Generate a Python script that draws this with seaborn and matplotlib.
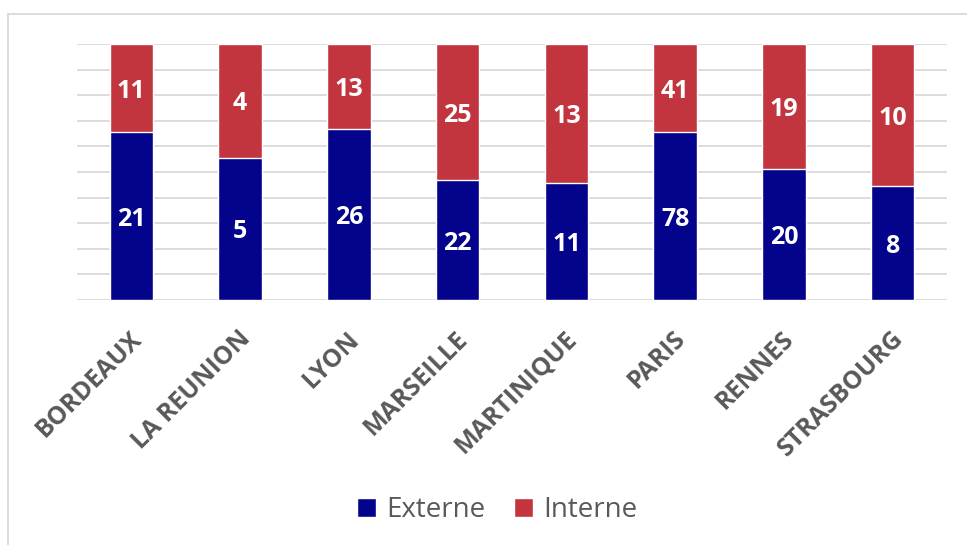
import matplotlib
matplotlib.use("Agg")
import matplotlib.pyplot as plt
import matplotlib.transforms as mtransforms
from matplotlib.patches import Rectangle, Patch
import seaborn as sns
import pandas as pd

categories = ["BORDEAUX", "LA REUNION", "LYON", "MARSEILLE", "MARTINIQUE", "PARIS", "RENNES", "STRASBOURG"]
externe = [21, 5, 26, 22, 11, 78, 20, 8]
interne = [11, 4, 13, 25, 13, 41, 19, 10]
series_names = ["Externe", "Interne"]

BLUE = "#03038B"
RED = "#C2353F"
GRID = "#D9D9D9"
TXT = "#595959"

sns.set_theme(style="white")
plt.rcParams["font.family"] = ["Open Sans", "DejaVu Sans"]

tot = [e + i for e, i in zip(externe, interne)]
df = pd.DataFrame({
    "cat": categories,
    "ext_pct": [e / t * 100 for e, t in zip(externe, tot)],
    "total": [100.0] * len(categories),
})

fig = plt.figure(figsize=(9.67, 5.45), dpi=100)
ax = fig.add_axes([77 / 967, 1 - 300 / 545, 870 / 967, 256 / 545])

sns.barplot(data=df, x="cat", y="total", color=RED, width=0.4, ax=ax, saturation=1, zorder=3)
sns.barplot(data=df, x="cat", y="ext_pct", color=BLUE, width=0.4, ax=ax, saturation=1, zorder=3)

ax.set_ylim(0, 100)
ax.set_xlim(-0.5, len(categories) - 0.5)
ax.set_yticks(range(0, 101, 10))
ax.set_yticklabels([])
ax.tick_params(axis="y", length=0)
ax.tick_params(axis="x", length=0, pad=19)
ax.yaxis.grid(True, color=GRID, lw=1.3, zorder=0)
ax.set_axisbelow(True)
for s in ax.spines.values():
    s.set_visible(False)
ax.set_xlabel("")
ax.set_ylabel("")
ax.set_xticks(range(len(categories)))
ax.set_xticklabels(categories, rotation=45, ha="right", rotation_mode="anchor",
                   fontsize=18, fontweight="bold", color=TXT)
offset = mtransforms.ScaledTranslation(-2 / 100, 0, fig.dpi_scale_trans)
for lab in ax.get_xticklabels():
    lab.set_transform(lab.get_transform() + offset)

for i, (e, n, p) in enumerate(zip(externe, interne, df["ext_pct"])):
    ax.text(i, p / 2, str(e), ha="center", va="center_baseline", color="white",
            fontsize=18, fontweight="bold", zorder=5)
    ax.text(i, (p + 100) / 2, str(n), ha="center", va="center_baseline", color="white",
            fontsize=18, fontweight="bold", zorder=5)

handles = [Patch(facecolor=BLUE, label=series_names[0]), Patch(facecolor=RED, label=series_names[1])]
leg = fig.legend(handles=handles, loc="center", bbox_to_anchor=(497 / 967, 1 - 510 / 545),
                 ncol=2, frameon=False, fontsize=20, handlelength=0.67, handleheight=0.67,
                 handletextpad=0.37, columnspacing=1.05, borderpad=0)
for t in leg.get_texts():
    t.set_color(TXT)

fig.patches.append(Rectangle((8 / 967, -0.05), 1.0, 1 - 14 / 545 + 0.05, transform=fig.transFigure,
                             fill=False, edgecolor=GRID, lw=1.3))

fig.savefig("out.png", dpi=100)
